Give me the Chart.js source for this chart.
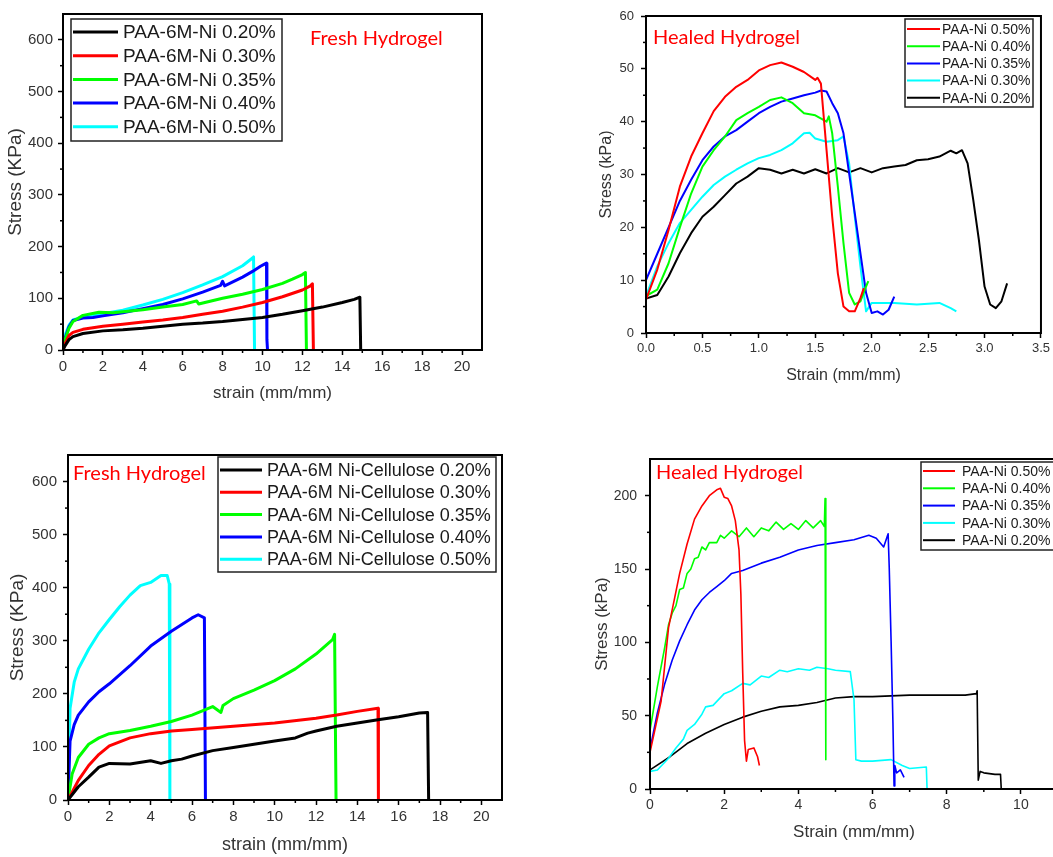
<!DOCTYPE html>
<html>
<head>
<meta charset="utf-8">
<script src="https://cdn.jsdelivr.net/npm/chart.js@4.4.1/dist/chart.umd.min.js"></script>
<style>
  html, body { margin: 0; padding: 0; background: #fff; overflow: hidden; width: 1053px; height: 857px; }
  canvas { position: absolute; }
</style>
</head>
<body>
<canvas id="freshNi" width="530" height="410" style="left:0;top:0"></canvas>
<canvas id="healedNi" width="493" height="390" style="left:560px;top:0"></canvas>
<canvas id="freshCell" width="530" height="417" style="left:0;top:440px"></canvas>
<canvas id="healedCell" width="520" height="417" style="left:560px;top:440px"></canvas>
<script>
// ---- data: [strain, stress] pairs ----

// top-left: fresh PAA-6M-Ni
const freshNiLabels = ['PAA-6M-Ni 0.20%', 'PAA-6M-Ni 0.30%', 'PAA-6M-Ni 0.35%', 'PAA-6M-Ni 0.40%', 'PAA-6M-Ni 0.50%'];
const freshNi020 = [[0,0],[0.1,8],[0.3,20],[0.5,26],[1,32],[2,37],[3,39],[4,42],[5,46],[6,50],[7,52],[8,55],[9,59],[10,63],[11,69],[12,76],[13,83],[14,92],[14.6,98],[14.85,102],[14.88,100],[14.92,0]];
const freshNi030 = [[0,0],[0.1,12],[0.3,28],[0.5,34],[1,40],[2,46],[3,50],[4,54],[5,58],[6,63],[7,69],[8,75],[9,83],[10,92],[11,103],[12,116],[12.4,124],[12.5,128],[12.55,0]];
const freshNi035 = [[0,0],[0.1,20],[0.3,42],[0.5,55],[1,67],[1.8,73],[2.5,72],[3,74],[4,78],[5,83],[6,88],[6.7,95],[6.8,89],[8,100],[9,108],[10,117],[11,129],[11.5,137],[12,146],[12.15,150],[12.2,0]];
const freshNi040 = [[0,0],[0.1,22],[0.3,45],[0.5,57],[1,62],[1.5,63],[2,66],[3,72],[4,80],[5,88],[6,99],[7,112],[7.9,125],[8,133],[8.1,124],[9,141],[9.5,152],[9.9,162],[10.1,166],[10.2,168],[10.22,20],[10.25,0]];
const freshNi050 = [[0,0],[0.1,28],[0.3,48],[0.5,58],[1,64],[2,70],[3,77],[4,87],[5,98],[6,111],[7,126],[8,142],[9,163],[9.5,178],[9.55,180],[9.6,0]];

// top-right: healed PAA-Ni
const healedNiLabels = ['PAA-Ni 0.50%', 'PAA-Ni 0.40%', 'PAA-Ni 0.35%', 'PAA-Ni 0.30%', 'PAA-Ni 0.20%'];
const healedNi050 = [[0,6.3],[0.1,12],[0.2,19.5],[0.3,27.7],[0.4,33.4],[0.5,37.8],[0.6,42],[0.7,44.7],[0.8,46.6],[0.9,47.9],[1.0,49.7],[1.1,50.7],[1.2,51.2],[1.3,50.4],[1.4,49.4],[1.5,47.9],[1.52,48.3],[1.55,47.2],[1.6,34.6],[1.65,22],[1.7,11.3],[1.75,5],[1.8,4.1],[1.85,4.1],[1.9,6.6],[1.93,8.5]];
const healedNi040 = [[0,7],[0.1,8.2],[0.2,13.2],[0.3,20],[0.4,26.4],[0.5,31.5],[0.6,34.6],[0.7,37.2],[0.8,40.3],[0.9,41.6],[1.0,42.8],[1.1,44.1],[1.2,44.6],[1.3,43.5],[1.4,41.6],[1.5,41.2],[1.6,40],[1.62,41],[1.65,37.8],[1.7,27.7],[1.75,17],[1.8,7.6],[1.85,5.4],[1.9,6],[1.95,8.8],[1.97,9.8]];
const healedNi035 = [[0,10],[0.1,15],[0.2,20],[0.3,25],[0.4,29],[0.5,32.7],[0.6,35.3],[0.7,37.2],[0.8,38.4],[0.9,40],[1.0,41.6],[1.1,42.8],[1.2,43.8],[1.3,44.4],[1.4,45],[1.5,45.5],[1.55,45.9],[1.6,45.7],[1.65,43.5],[1.7,41.6],[1.75,37.8],[1.8,30.2],[1.85,22.7],[1.9,15.1],[1.95,7.6],[2.0,3.8],[2.05,4.1],[2.1,3.5],[2.15,4.4],[2.2,6.9]];
const healedNi030 = [[0,7],[0.1,12.6],[0.2,17],[0.3,20.8],[0.4,23.3],[0.5,25.8],[0.6,28],[0.7,29.6],[0.8,30.9],[0.9,32.1],[1.0,33.1],[1.1,33.7],[1.2,34.6],[1.3,35.9],[1.4,37.8],[1.45,37.9],[1.5,36.8],[1.6,36.2],[1.7,36.5],[1.75,37.2],[1.8,32.1],[1.85,22],[1.9,12.6],[1.95,4.1],[2.0,5.7],[2.2,5.7],[2.4,5.4],[2.6,5.7],[2.7,4.7],[2.75,4.1]];
const healedNi020 = [[0,6.5],[0.1,7.2],[0.2,10.7],[0.3,15.1],[0.4,18.9],[0.5,22],[0.6,23.9],[0.7,26.1],[0.8,28.3],[0.9,29.6],[1.0,31.2],[1.1,30.9],[1.2,30.2],[1.3,30.9],[1.4,30.2],[1.5,31],[1.6,30.2],[1.7,31.2],[1.8,30.4],[1.9,31.2],[2.0,30.4],[2.1,31.2],[2.2,31.5],[2.3,31.8],[2.4,32.7],[2.5,32.9],[2.6,33.4],[2.7,34.5],[2.75,34],[2.8,34.6],[2.85,32.1],[2.9,25.2],[2.95,17.6],[3.0,8.8],[3.05,5.4],[3.1,4.7],[3.15,6],[3.2,9.4]];

// bottom-left: fresh PAA-6M Ni-Cellulose
const freshCellLabels = ['PAA-6M Ni-Cellulose 0.20%', 'PAA-6M Ni-Cellulose 0.30%', 'PAA-6M Ni-Cellulose 0.35%', 'PAA-6M Ni-Cellulose 0.40%', 'PAA-6M Ni-Cellulose 0.50%'];
const freshCell020 = [[0,0],[0.5,25],[1,43],[1.5,62],[2,69],[3,68],[4,74],[4.5,69],[5,74],[5.5,77],[6,83],[7,93],[8,99],[9,105],[10,111],[11,117],[11.6,126],[12,130],[13,139],[14,145],[15,151],[16,157],[17,164],[17.4,165],[17.45,0]];
const freshCell030 = [[0,0],[0.5,37],[1,65],[1.5,86],[2,102],[3,117],[4,125],[5,130],[6,133],[8,139],[10,145],[12,154],[13,160],[14,167],[15,173],[15.02,0]];
const freshCell035 = [[0,0],[0.2,49],[0.5,80],[1,105],[1.5,117],[2,125],[3,131],[4,139],[5,148],[6,160],[7,176],[7.4,165],[7.5,178],[8,191],[9,207],[10,225],[11,247],[12,275],[12.8,302],[12.9,312],[12.97,0]];
const freshCell040 = [[0,0],[0.1,111],[0.3,142],[0.5,160],[1,185],[1.5,204],[2,219],[3,253],[4,290],[5,318],[6,343],[6.3,349],[6.6,343],[6.65,0]];
const freshCell050 = [[0,0],[0.1,173],[0.3,222],[0.5,247],[1,284],[1.5,315],[2,340],[2.5,364],[3,386],[3.5,404],[4,410],[4.5,423],[4.8,423],[4.9,407],[4.93,0]];

// bottom-right: healed PAA-Ni
const healedCellLabels = ['PAA-Ni 0.50%', 'PAA-Ni 0.40%', 'PAA-Ni 0.35%', 'PAA-Ni 0.30%', 'PAA-Ni 0.20%'];
const healedCell050 = [[0,25],[0.3,60],[0.5,110],[0.8,147],[1.0,167],[1.2,184],[1.4,193],[1.6,200],[1.8,204],[1.9,205],[2.0,199],[2.1,198],[2.2,193],[2.3,183],[2.4,163],[2.45,133],[2.5,79],[2.55,33],[2.6,19],[2.65,27],[2.8,28],[2.9,22],[2.95,16]];
const healedCell040 = [[0,40],[0.2,70],[0.4,97],[0.5,112],[0.6,120],[0.7,125],[0.8,136],[0.9,137],[1.0,147],[1.1,150],[1.2,157],[1.3,158],[1.4,165],[1.5,163],[1.6,168],[1.8,168],[1.9,173],[2.0,171],[2.2,176],[2.4,172],[2.6,178],[2.8,172],[3.0,178],[3.2,176],[3.4,182],[3.6,177],[3.8,181],[4.0,177],[4.2,183],[4.4,178],[4.6,183],[4.7,179],[4.72,198],[4.74,20]];
const healedCell035 = [[0,27],[0.2,52],[0.4,72],[0.6,88],[0.8,101],[1.0,112],[1.2,122],[1.4,129],[1.6,134],[1.8,138],[2.0,142],[2.2,147],[2.5,149],[3.0,154],[3.5,158],[4.0,163],[4.5,166],[5.0,168],[5.5,170],[5.9,173],[6.1,171],[6.3,165],[6.42,174],[6.45,151],[6.5,101],[6.55,45],[6.58,2],[6.6,16],[6.65,11],[6.75,13],[6.85,8]];
const healedCell030 = [[0,12],[0.2,13],[0.5,21],[0.7,28],[0.9,34],[1,40],[1.2,44],[1.4,51],[1.5,56],[1.7,57],[2,65],[2.2,67],[2.5,72],[2.7,71],[3,77],[3.2,76],[3.5,81],[3.7,80],[4,82],[4.3,81],[4.5,83],[4.8,82],[5.0,81],[5.4,80],[5.5,61],[5.55,20],[5.7,19],[6.0,19],[6.5,20],[6.8,16],[7.0,14],[7.45,15],[7.47,0]];
const healedCell020 = [[0,13],[0.54,22],[1.0,31],[1.5,38],[2,44],[2.5,49],[3,53],[3.5,56],[4,57],[4.5,59],[5,62],[5.5,63],[6,63],[7,64],[8,64],[8.5,64],[8.8,65],[8.82,67],[8.85,6],[8.9,12],[9.0,11],[9.3,10],[9.45,10],[9.47,0]];

const colorsUp = ['#000000', '#ff0000', '#00ff00', '#0000ff', '#00ffff'];
const colorsDown = ['#ff0000', '#00ff00', '#0000ff', '#00ffff', '#000000'];

const FONT = 'Arial, "Liberation Sans", sans-serif';
const NOTE_FONT = 'Lato, "Open Sans", sans-serif';

// frame box, minor ticks, boxed legend and red note
const framePlugin = {
  id: 'frame',
  afterDraw(chart, args, opts) {
    const ctx = chart.ctx;
    const a = chart.chartArea;
    ctx.save();
    ctx.strokeStyle = '#000';
    ctx.lineWidth = 2;
    ctx.strokeRect(a.left, a.top, a.right - a.left, a.bottom - a.top);

    // minor ticks halfway between majors
    ctx.lineWidth = 1.5;
    ['x', 'y'].forEach(id => {
      const s = chart.scales[id];
      const vals = s.ticks.map(t => t.value);
      const step = vals[1] - vals[0];
      for (let i = 0; i < vals.length; i++) {
        const m = vals[i] + step / 2;
        if (m >= s.max) continue;
        const p = s.getPixelForValue(m);
        ctx.beginPath();
        if (id === 'x') { ctx.moveTo(p, a.bottom); ctx.lineTo(p, a.bottom + 3); }
        else { ctx.moveTo(a.left, p); ctx.lineTo(a.left - 3, p); }
        ctx.stroke();
      }
    });

    // legend
    const L = opts.legend;
    ctx.fillStyle = '#fff';
    ctx.fillRect(L.x, L.y, L.w, L.h);
    ctx.strokeStyle = '#222';
    ctx.lineWidth = 1.5;
    ctx.strokeRect(L.x, L.y, L.w, L.h);
    ctx.font = L.size + 'px ' + FONT;
    ctx.textBaseline = 'middle';
    ctx.textAlign = 'left';
    chart.data.datasets.forEach((ds, i) => {
      const y = L.y + L.first + i * L.row;
      ctx.strokeStyle = ds.borderColor;
      ctx.lineWidth = L.lw;
      ctx.beginPath();
      ctx.moveTo(L.x + 2, y);
      ctx.lineTo(L.x + 2 + L.len, y);
      ctx.stroke();
      ctx.fillStyle = '#1a1a1a';
      ctx.fillText(ds.label, L.x + L.textX, y + 1);
    });

    // note
    const N = opts.note;
    ctx.fillStyle = '#ff0000';
    ctx.font = N.size + 'px ' + NOTE_FONT;
    ctx.fillText(N.text, N.x, N.y);
    ctx.restore();
  }
};

function build(id, series, labels, colors, o) {
  const datasets = series.map((s, i) => ({
    label: labels[i],
    data: s.map(p => ({ x: p[0], y: p[1] })),
    borderColor: colors[i],
    backgroundColor: colors[i],
    borderWidth: o.lw,
    pointRadius: 0,
    tension: 0,
    borderJoinStyle: 'round',
    fill: false
  }));
  const tickFont = { family: FONT, size: o.tickSize };
  return new Chart(document.getElementById(id), {
    type: 'line',
    data: { datasets },
    plugins: [framePlugin],
    options: {
      responsive: false,
      animation: false,
      layout: { padding: o.pad },
      plugins: {
        legend: { display: false },
        tooltip: { enabled: false },
        frame: { legend: o.legend, note: o.note }
      },
      scales: {
        x: {
          type: 'linear', min: 0, max: o.xMax,
          ticks: { stepSize: o.xStep, includeBounds: false, font: tickFont, color: '#333', padding: 3,
                   callback: o.xFmt || (v => v) },
          grid: { drawOnChartArea: false, tickLength: 5, tickColor: '#000', tickWidth: 1.5 },
          border: { display: false },
          title: { display: true, text: o.xTitle, font: { family: FONT, size: o.xTitleSize }, color: '#333',
                   padding: { top: 0, bottom: o.xTitlePad } },
          afterFit: s => { s.height = o.xH; }
        },
        y: {
          type: 'linear', min: 0, max: o.yMax,
          ticks: { stepSize: o.yStep, includeBounds: false, font: tickFont, color: '#333', padding: o.yTickPad },
          grid: { drawOnChartArea: false, tickLength: 5, tickColor: '#000', tickWidth: 1.5 },
          border: { display: false },
          title: { display: true, text: o.yTitle, font: { family: FONT, size: o.yTitleSize }, color: '#333',
                   padding: { top: o.yTitlePad, bottom: 0 } },
          afterFit: s => { s.width = o.yW; }
        }
      }
    }
  });
}

build('freshNi', [freshNi020, freshNi030, freshNi035, freshNi040, freshNi050], freshNiLabels, colorsUp, {
  lw: 3, xMax: 21, xStep: 2, yMax: 650, yStep: 100, tickSize: 15,
  pad: { left: 0, top: 14, right: 48, bottom: 0 }, xH: 60, yW: 63,
  xTitle: 'strain (mm/mm)', yTitle: 'Stress (KPa)', xTitleSize: 17, yTitleSize: 19,
  xTitlePad: 6, yTitlePad: 4.6, yTickPad: 5,
  legend: { x: 71, y: 19, w: 211, h: 122, first: 13, row: 23.7, len: 45, textX: 52, size: 19, lw: 3 },
  note: { text: 'Fresh Hydrogel', x: 310, y: 39, size: 20 }
});

build('healedNi', [healedNi050, healedNi040, healedNi035, healedNi030, healedNi020], healedNiLabels, colorsDown, {
  lw: 2, xMax: 3.5, xStep: 0.5, yMax: 60, yStep: 10, xFmt: v => v.toFixed(1), tickSize: 13,
  pad: { left: 0, top: 16, right: 12, bottom: 0 }, xH: 57, yW: 86,
  xTitle: 'Strain (mm/mm)', yTitle: 'Stress (kPa)', xTitleSize: 16, yTitleSize: 16,
  xTitlePad: 5, yTitlePad: 37, yTickPad: 7,
  legend: { x: 345, y: 19, w: 128, h: 88, first: 10, row: 17.2, len: 33, textX: 37, size: 14, lw: 2 },
  note: { text: 'Healed Hydrogel', x: 93, y: 38, size: 20 }
});

build('freshCell', [freshCell020, freshCell030, freshCell035, freshCell040, freshCell050], freshCellLabels, colorsUp, {
  lw: 3, xMax: 21, xStep: 2, yMax: 650, yStep: 100, tickSize: 15,
  pad: { left: 0, top: 10, right: 28, bottom: 0 }, xH: 57, yW: 68,
  xTitle: 'strain (mm/mm)', yTitle: 'Stress (KPa)', xTitleSize: 18, yTitleSize: 19,
  xTitlePad: 1.5, yTitlePad: 6.6, yTickPad: 6,
  legend: { x: 218, y: 17, w: 278, h: 115, first: 13, row: 22.3, len: 42, textX: 49, size: 18, lw: 3 },
  note: { text: 'Fresh Hydrogel', x: 73, y: 34, size: 20 }
});

build('healedCell', [healedCell050, healedCell040, healedCell035, healedCell030, healedCell020], healedCellLabels, colorsDown, {
  lw: 1.6, xMax: 11, xStep: 2, yMax: 225, yStep: 50, tickSize: 14,
  pad: { left: 0, top: 19, right: 22, bottom: 0 }, xH: 68, yW: 90,
  xTitle: 'Strain (mm/mm)', yTitle: 'Stress (kPa)', xTitleSize: 17, yTitleSize: 17,
  xTitlePad: 14.8, yTitlePad: 31.8, yTickPad: 8,
  legend: { x: 361, y: 22, w: 136, h: 88, first: 9, row: 17.3, len: 32, textX: 41, size: 14, lw: 2 },
  note: { text: 'Healed Hydrogel', x: 96, y: 33, size: 20 }
});
</script>
</body>
</html>
